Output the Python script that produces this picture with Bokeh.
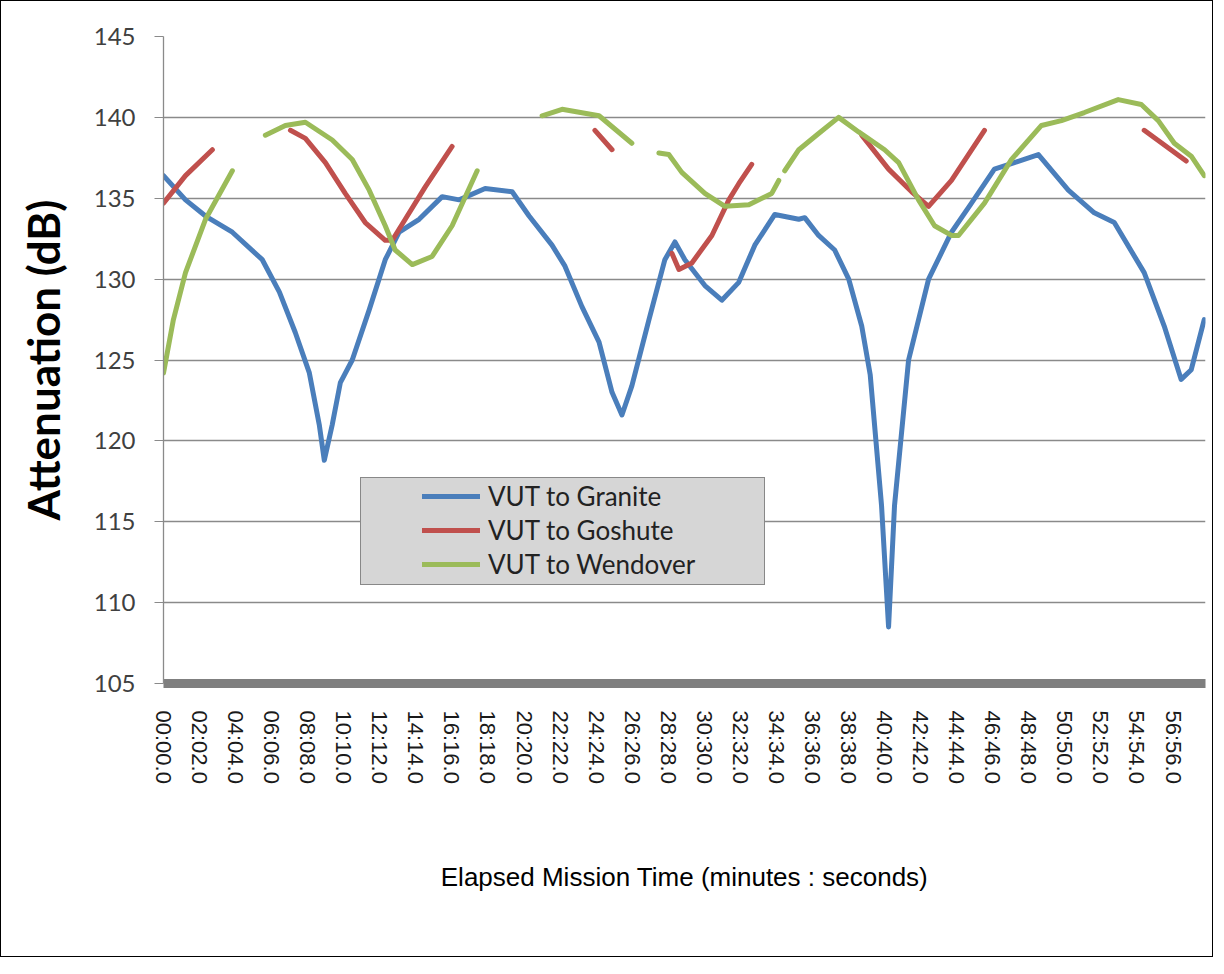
import math
from bokeh.plotting import figure
from bokeh.models import Range1d, FixedTicker, Legend, LegendItem
from bokeh.embed import file_html
from bokeh.resources import INLINE

nan = float("nan")

# ---------------- data (minutes, dB) ----------------
granite_t = [0.0, 1.22, 2.33, 3.82, 5.48, 6.43, 7.31, 8.09, 8.64, 8.92, 9.36, 9.81,
             10.47, 11.41, 12.30, 13.07, 14.18, 15.46, 16.40, 17.84, 19.34, 20.28,
             21.55, 22.27, 23.21, 24.16, 24.88, 25.43, 25.98, 26.93, 27.81, 28.37,
             28.92, 30.03, 30.97, 31.91, 32.80, 33.91, 35.24, 35.57, 36.34, 37.23,
             38.01, 38.73, 39.20, 39.83, 40.22, 40.55, 41.33, 42.44, 43.71, 44.82,
             46.09, 47.20, 48.53, 50.19, 51.63, 52.74, 54.40, 55.51, 56.45, 57.01, 57.73]
granite_db = [136.4, 134.9, 133.9, 132.9, 131.2, 129.2, 126.7, 124.2, 121.0, 118.8, 121.0, 123.6,
              125.0, 128.1, 131.2, 132.9, 133.7, 135.1, 134.9, 135.6, 135.4, 133.9,
              132.1, 130.8, 128.3, 126.1, 123.0, 121.6, 123.4, 127.5, 131.2, 132.3,
              131.2, 129.6, 128.7, 129.8, 132.1, 134.0, 133.7, 133.8, 132.7, 131.8,
              130.0, 127.1, 124.1, 116.0, 108.5, 116.0, 125.0, 130.0, 132.9, 134.7,
              136.8, 137.2, 137.7, 135.5, 134.1, 133.5, 130.4, 127.1, 123.8, 124.4, 127.5]

goshute_t_segments = [
    [0.0, 1.22, 2.71],
    [7.04, 7.87, 8.98, 10.08, 11.19, 12.30, 12.69, 13.41, 14.52, 16.01],
    [23.93, 24.88],
    [28.20, 28.59, 29.31, 30.42, 31.36, 31.91, 32.63],
    [38.73, 40.22, 41.50, 42.44, 43.71, 45.54],
    [54.40, 56.73],
]
goshute_db_segments = [
    [134.7, 136.4, 138.0],
    [139.2, 138.7, 137.2, 135.3, 133.5, 132.4, 132.4, 133.7, 135.7, 138.2],
    [139.2, 138.0],
    [131.6, 130.6, 131.0, 132.7, 134.9, 135.9, 137.1],
    [138.9, 136.8, 135.4, 134.5, 136.1, 139.2],
    [139.2, 137.3],
]

wendover_t_segments = [
    [0.0, 0.55, 1.22, 2.33, 3.82],
    [5.65, 6.76, 7.87, 9.36, 10.47, 11.41, 12.30, 12.85, 13.80, 14.90, 16.01, 17.40],
    [21.00, 22.11, 24.16, 25.98],
    [27.48, 28.03, 28.75, 30.03, 31.14, 32.47, 33.74, 34.13],
    [34.46, 35.24, 36.34, 37.45, 38.56, 40.00, 40.78, 41.88, 42.77, 43.71, 44.10,
     45.54, 47.04, 48.70, 49.81, 51.08, 52.96, 54.24, 55.18, 56.07, 57.01, 57.73],
]
wendover_db_segments = [
    [124.2, 127.5, 130.4, 133.7, 136.7],
    [138.9, 139.5, 139.7, 138.6, 137.4, 135.5, 133.3, 131.8, 130.9, 131.4, 133.3, 136.7],
    [140.1, 140.5, 140.1, 138.4],
    [137.8, 137.7, 136.6, 135.3, 134.5, 134.6, 135.3, 136.1],
    [136.7, 138.0, 139.0, 140.0, 139.1, 138.0, 137.2, 134.9, 133.3, 132.7, 132.7,
     134.7, 137.4, 139.5, 139.8, 140.3, 141.1, 140.8, 139.8, 138.4, 137.6, 136.4],
]

series_names = ["VUT to Granite", "VUT to Goshute", "VUT to Wendover"]
series_colors = ["#4A7EBB", "#C0504D", "#9BBB59"]

tick_minutes = [0, 2, 4, 6, 8, 10, 12, 14, 16, 18, 20, 22, 24, 26, 28,
                30, 32, 34, 36, 38, 40, 42, 44, 46, 48, 50, 52, 54, 56]
tick_labels = ["00:00.0", "02:02.0", "04:04.0", "06:06.0", "08:08.0", "10:10.0",
               "12:12.0", "14:14.0", "16:16.0", "18:18.0", "20:20.0", "22:22.0",
               "24:24.0", "26:26.0", "28:28.0", "30:30.0", "32:32.0", "34:34.0",
               "36:36.0", "38:38.0", "40:40.0", "42:42.0", "44:44.0", "46:46.0",
               "48:48.0", "50:50.0", "52:52.0", "54:54.0", "56:56.0"]
y_ticks = [105, 110, 115, 120, 125, 130, 135, 140, 145]


def join_segments(segs):
    out = []
    for i, s in enumerate(segs):
        if i > 0:
            out.append(nan)
        out.extend(s)
    return out


goshute_t = join_segments(goshute_t_segments)
goshute_db = join_segments(goshute_db_segments)
wendover_t = join_segments(wendover_t_segments)
wendover_db = join_segments(wendover_db_segments)

# ---------------- figure ----------------
p = figure(width=1213, height=957,
           x_range=Range1d(0, 57.8), y_range=Range1d(105, 145),
           output_backend="svg", toolbar_location=None,
           min_border_left=162, min_border_right=9,
           min_border_top=35, min_border_bottom=275)
p.styles = {"border": "1px solid black"}
p.outline_line_color = None
p.background_fill_color = "white"
p.border_fill_color = "white"

# grid
p.xgrid.visible = False
p.ygrid.grid_line_color = "#8a8a8a"
p.ygrid.grid_line_width = 1.3

# y axis
p.yaxis.ticker = FixedTicker(ticks=y_ticks)
p.yaxis.axis_line_color = "#8a8a8a"
p.yaxis.axis_line_width = 1.3
p.yaxis.major_tick_line_color = "#8a8a8a"
p.yaxis.major_tick_out = 9
p.yaxis.major_tick_in = 0
p.yaxis.minor_tick_line_color = None
p.yaxis.major_label_text_font = "Lato"
p.yaxis.major_label_text_font_size = "24px"
p.yaxis.major_label_text_color = "#404040"
p.yaxis.major_label_standoff = 19
p.yaxis.axis_label = "Attenuation (dB)"
p.yaxis.axis_label_text_font = "Lato"
p.yaxis.axis_label_text_font_style = "bold"
p.yaxis.axis_label_text_font_size = "44px"
p.yaxis.axis_label_text_color = "black"
p.yaxis.axis_label_standoff = 22

# x axis
p.xaxis.ticker = FixedTicker(ticks=tick_minutes)
p.xaxis.major_label_overrides = dict(zip(tick_minutes, tick_labels))
p.xaxis.major_label_orientation = "vertical"
p.xaxis.axis_line_color = "#7f7f7f"
p.xaxis.axis_line_width = 9
p.xaxis.major_tick_line_color = None
p.xaxis.minor_tick_line_color = None
p.xaxis.major_label_text_font = "Liberation Sans"
p.xaxis.major_label_text_font_size = "22px"
p.xaxis.major_label_text_color = "#1a1a1a"
p.xaxis.major_label_standoff = 21
p.xaxis.axis_label = "Elapsed Mission Time (minutes : seconds)"
p.xaxis.axis_label_text_font = "Liberation Sans"
p.xaxis.axis_label_text_font_style = "normal"
p.xaxis.axis_label_text_font_size = "26px"
p.xaxis.axis_label_text_color = "black"
p.xaxis.axis_label_standoff = 75

# lines
r_gran = p.line(granite_t, granite_db, line_color=series_colors[0], line_width=5,
                line_join="round", line_cap="round")
r_gosh = p.line(goshute_t, goshute_db, line_color=series_colors[1], line_width=5,
                line_join="round", line_cap="round")
r_wend = p.line(wendover_t, wendover_db, line_color=series_colors[2], line_width=5,
                line_join="round", line_cap="round")

# legend background box (invisible dummy renderer)
r_dummy = p.line([nan], [nan], line_alpha=0)
bg_legend = Legend(items=[LegendItem(label=" ", renderers=[r_dummy])],
                   location=(197, 98), padding=0, spacing=0, margin=0,
                   glyph_width=403, glyph_height=106, label_height=106,
                   label_width=0, label_standoff=0,
                   label_text_font_size="2px",
                   background_fill_color="#d6d6d6", background_fill_alpha=1.0,
                   border_line_color="#3a3a3a", border_line_width=1.5)
p.add_layout(bg_legend, "center")

legend = Legend(items=[LegendItem(label=series_names[0], renderers=[r_gran]),
                       LegendItem(label=series_names[1], renderers=[r_gosh]),
                       LegendItem(label=series_names[2], renderers=[r_wend])],
                location=(259, 102), padding=0, spacing=0, margin=0,
                glyph_width=58, glyph_height=34, label_height=34,
                label_standoff=8,
                label_text_font="Lato", label_text_font_size="26px",
                label_text_color="#222222",
                background_fill_alpha=0.0, border_line_alpha=0.0)
p.add_layout(legend, "center")

open("out.html", "w").write(file_html(p, INLINE))
